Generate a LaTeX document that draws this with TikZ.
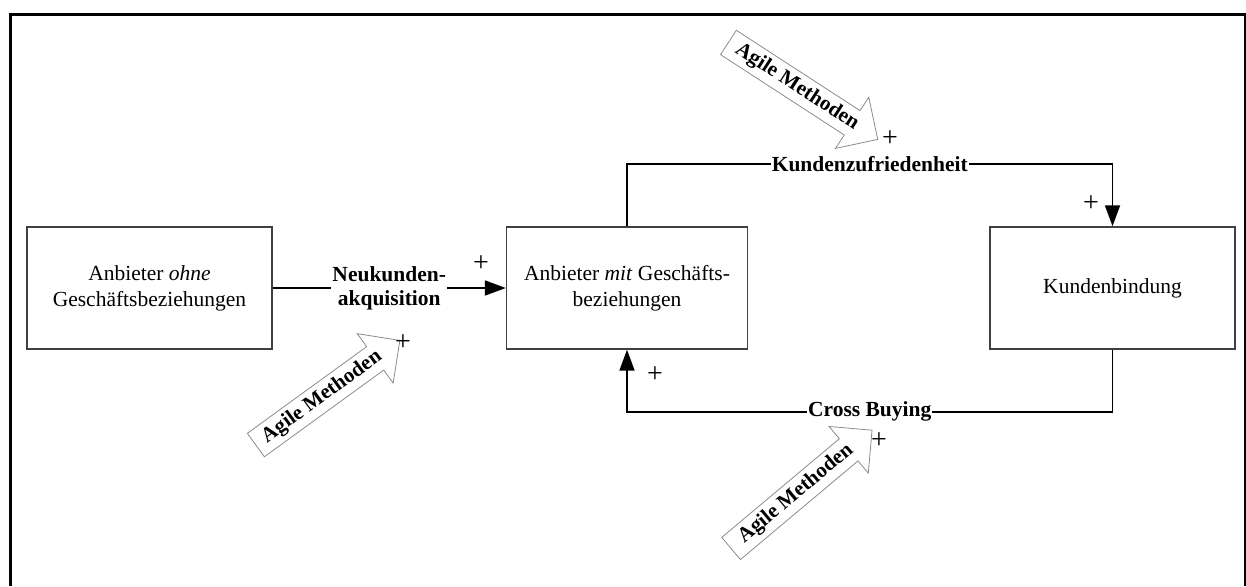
\documentclass[tikz,border=0pt]{standalone}
\usepackage{fontspec}
\setmainfont{Liberation Serif}
\usetikzlibrary{shapes.arrows,arrows.meta}
\begin{document}
\begin{tikzpicture}[x=1pt,y=-1pt,
  boxnode/.style={draw=black!75,line width=1.4pt,minimum width=245pt,minimum height=122pt,align=center,font=\fontsize{21.5}{26}\selectfont},
  conn/.style={line width=1.8pt,black},
  tip/.style={-{Triangle[length=21pt,width=15pt]}},
  lbl/.style={fill=white,inner sep=1pt,font=\fontsize{21.5}{24}\selectfont\bfseries,align=center},
  plus/.style={font=\fontsize{28}{28}\selectfont,inner sep=0pt},
  agile/.style={single arrow,draw=black!45,fill=white,line width=0.8pt,single arrow head extend=16pt,single arrow head indent=0pt,inner xsep=2pt,inner ysep=4.5pt,font=\fontsize{21}{23}\selectfont\bfseries}
]
\useasboundingbox (0,0) rectangle (1246,586);
\draw[line width=3pt] (10,586) -- (10,15) -- (1245,15) -- (1245,586);

\node[boxnode] (A) at (149.5,288) {Anbieter \textit{ohne}\\Geschäftsbeziehungen};
\node[boxnode,minimum width=241pt] (B) at (627,288) {Anbieter \textit{mit} Geschäfts-\\beziehungen};
\node[boxnode] (C) at (1112.5,288) {Kundenbindung};

\draw[conn,tip] (A.east) -- node[lbl] {Neukunden-\\akquisition} (B.west);
\draw[conn,tip] (B.north) -- ++(0,-62) coordinate (t1) -- node[lbl] {Kundenzufriedenheit} (t1 -| C.north) -- (C.north);
\draw[conn,tip] (C.south) -- ++(0,62) coordinate (b1) -- node[lbl] {Cross Buying} (b1 -| B.south) -- (B.south);

\node[agile,minimum height=178pt,rotate=-33] (ag1) at (797,87) {Agile Methoden};
\node[agile,minimum height=178pt,rotate=36] (ag2) at (322,397) {Agile Methoden};
\node[agile,minimum height=184pt,rotate=40] (ag3) at (796,494) {Agile Methoden};

\node[plus] (p1) at (481,264) {+};
\node[plus] (p2) at (1091,204) {+};
\node[plus] (p3) at (655,375) {+};
\node[plus] (p4) at (890,139) {+};
\node[plus] (p5) at (403,343) {+};
\node[plus] (p6) at (879,441) {+};
\end{tikzpicture}
\end{document}
